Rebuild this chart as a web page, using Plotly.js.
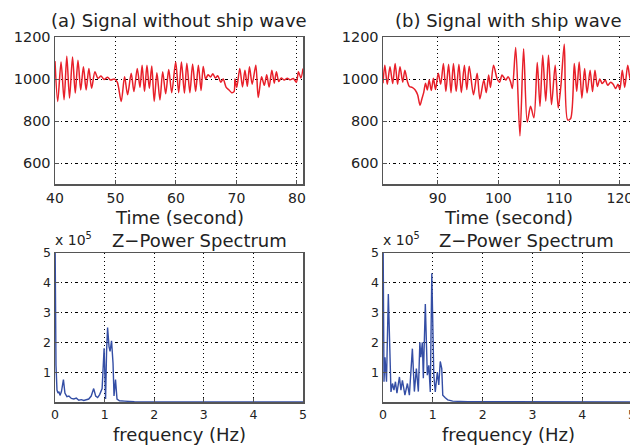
<!DOCTYPE html>
<html><head><meta charset="utf-8">
<script src="https://cdn.plot.ly/plotly-3.0.1.min.js"></script>
<style>html,body{margin:0;padding:0;width:630px;height:446px;overflow:hidden;background:#fff}</style>
</head><body><div id="chart" style="width:650px;height:446px"></div>
<script>
// Signal without ship wave (time s, value)
const timeA = [40.0,40.45,41.0,41.5,41.95,42.4,42.9,43.35,43.8,44.25,44.7,45.15,45.6,46.05,46.6,47.1,47.6,48.1,48.7,49.2,49.8,50.3,50.95,51.5,52.0,52.6,53.05,53.6,54.05,54.4,54.8,55.2,55.6,56.0,56.4,56.85,57.35,57.8,58.3,58.8,59.3,59.95,60.45,60.9,61.4,61.8,62.3,62.75,63.25,63.7,64.15,64.5,64.9,65.3,65.7,66.1,66.5,66.9,67.4,67.8,68.3,68.7,69.2,69.6,69.75,70.05,70.55,71.0,71.4,71.8,72.15,72.6,73.2,73.6,74.15,74.6,75.0,75.4,75.85,76.25,76.6,77.0,77.4,77.9,78.4,78.9,79.4,79.9,80.25,80.65,81.0];
const sigA  = [1085,893,1081,901,1108,909,1105,933,1089,948,1058,948,1050,956,1034,1003,1014,998,1008,995,1000,985,893,1011,925,1027,940,1050,960,1066,940,1066,955,1062,893,1030,900,1035,930,1045,935,1081,935,1081,933,1075,935,1072,940,1066,945,1060,1000,1020,1010,1025,1005,1015,985,1000,960,950,935,940,1000,960,1050,962,1042,965,1058,975,1066,912,1011,970,1020,962,1042,980,1034,988,1005,995,1003,996,1002,985,1034,1005,1050];
// Signal with ship wave
const timeB = [81.0,81.3,81.7,82.15,82.6,83.0,83.4,83.8,84.25,84.6,85.0,85.35,85.8,86.3,86.7,87.1,87.4,87.7,88.0,88.3,88.6,88.95,89.3,89.65,90.1,90.5,90.95,91.35,91.8,92.2,92.6,93.05,93.5,93.9,94.4,94.8,95.2,95.9,96.5,96.95,97.6,98.0,98.4,98.7,99.2,99.8,100.2,100.6,101.2,101.6,102.0,102.3,102.85,103.55,104.15,104.75,105.3,105.85,106.4,106.85,107.3,107.8,108.25,108.75,109.35,109.85,110.3,110.85,111.4,111.9,112.5,112.9,113.3,113.75,114.2,114.6,115.1,115.5,115.9,116.3,116.7,117.1,117.6,118.0,118.5,118.9,119.3,119.7,120.0,120.4,120.8,121.3,121.7,122.0];
const sigB  = [980,1066,975,1058,978,1074,975,1058,985,1042,990,964,960,948,925,875,905,935,980,948,995,945,1003,950,1027,975,1074,940,1070,935,1074,940,1070,935,1066,950,1061,925,1027,905,995,935,1019,960,1066,1000,985,1019,995,1011,987,955,1150,729,1144,795,870,815,1078,870,1113,895,1113,878,1066,862,970,1166,805,812,1074,940,1081,909,1050,933,1042,940,1042,964,1000,978,995,970,985,975,955,975,950,1042,960,1066,1000,1020];
// Z-Power spectra (frequency Hz, power in units of 1e5)
const freqA = [0.0,0.01,0.02,0.04,0.06,0.08,0.10,0.13,0.17,0.20,0.24,0.28,0.33,0.38,0.43,0.48,0.53,0.58,0.63,0.68,0.73,0.78,0.82,0.86,0.90,0.95,0.99,1.02,1.04,1.06,1.09,1.11,1.14,1.17,1.19,1.22,1.25,1.3,1.4,1.5,1.6,2.0,5.0];
const powA  = [5.8,2.5,1.23,0.4,0.3,0.35,0.22,0.35,0.75,0.3,0.18,0.2,0.12,0.1,0.13,0.06,0.08,0.05,0.07,0.1,0.2,0.45,0.2,0.15,0.25,0.45,1.8,0.1,1.7,2.5,1.85,1.7,2.05,1.3,0.2,0.75,0.1,0.04,0.03,0.02,0.01,0.005,0.003];
const freqB = [0.0,0.01,0.02,0.04,0.07,0.107,0.14,0.16,0.19,0.22,0.25,0.28,0.33,0.36,0.39,0.44,0.49,0.53,0.59,0.63,0.67,0.71,0.74,0.76,0.79,0.81,0.85,0.89,0.92,0.95,0.98,1.02,1.05,1.09,1.12,1.15,1.18,1.2,1.25,1.3,1.4,1.5,1.7,5.0];
const powB  = [6,2.5,0.68,1.5,0.68,3.62,1.23,0.34,0.62,0.4,0.68,0.3,0.84,0.4,0.73,0.23,0.62,0.23,1.79,0.35,1.12,0.35,2.0,1.5,2.0,0.8,3.29,0.9,1.23,0.34,4.32,0.9,0.34,1.0,0.57,1.36,1.12,0.23,0.14,0.07,0.03,0.02,0.01,0.003];

const titles = ['(a) Signal without ship wave','(b) Signal with ship wave'];
const timeLabel = 'Time (second)';
const specTitle = 'Z\u2212Power Spectrum';
const freqLabel = 'frequency (Hz)';
const expLabel = 'x 10<sup>5</sup>';

const RED = 'rgb(232,32,42)', BLUE = 'rgb(52,78,165)';
const FONT = 'DejaVu Sans', TXT = '#222';
const data = [
  {x: timeA, y: sigA, xaxis:'x', yaxis:'y', mode:'lines', line:{color:RED, width:1.5, shape:'spline', smoothing:0.8}},
  {x: timeB, y: sigB, xaxis:'x2', yaxis:'y2', mode:'lines', line:{color:RED, width:1.5, shape:'spline', smoothing:0.8}},
  {x: freqA, y: powA, xaxis:'x3', yaxis:'y3', mode:'lines', line:{color:BLUE, width:1.4}},
  {x: freqB, y: powB, xaxis:'x4', yaxis:'y4', mode:'lines', line:{color:BLUE, width:1.4}}
];
const W = 650, H = 446, L = 55, R = 18, T = 37, B = 44;
const PW = W - L - R, PH = H - T - B;
const px = v => (v - L) / PW, py = v => (H - B - v) / PH;
const dA = [0, px(303)], dB = [px(383), 1];
const dTop = [py(184), 1], dBot = [0, py(253)];
function ax(extra, fs) {
  return Object.assign({showline:true, linecolor:'#555', linewidth:1.5, mirror:true,
    showgrid:true, gridcolor:'#000', gridwidth:1, griddash:'1px,3px', zeroline:false,
    ticks:'inside', ticklen:4, tickcolor:'#555',
    tickfont:{family:FONT, size:fs, color:TXT}}, extra);
}
const layout = {
  width: W, height: H, margin:{l:L, r:R, t:T, b:B}, showlegend:false,
  paper_bgcolor:'#fff', plot_bgcolor:'#fff',
  xaxis:  ax({domain:dA, anchor:'y', range:[40,81], tickvals:[40,50,60,70,80], ticklabelstandoff:1}, 14),
  yaxis:  ax({domain:dTop, anchor:'x', range:[500,1200], tickvals:[600,800,1000,1200], griddash:'3px,3px,1px,3px'}, 14.5),
  xaxis2: ax({domain:dB, anchor:'y2', range:[81,122], tickvals:[90,100,110,120], ticklabelstandoff:1}, 14),
  yaxis2: ax({domain:dTop, anchor:'x2', range:[500,1200], tickvals:[600,800,1000,1200], griddash:'3px,3px,1px,3px'}, 14.5),
  xaxis3: ax({domain:dA, anchor:'y3', range:[0,5], tickvals:[0,1,2,3,4,5]}, 12.5),
  yaxis3: ax({domain:dBot, anchor:'x3', range:[0,5], tickvals:[1,2,3,4,5], griddash:'3px,3px,1px,3px'}, 12.5),
  xaxis4: ax({domain:dB, anchor:'y4', range:[0,5], tickvals:[0,1,2,3,4,5]}, 12.5),
  yaxis4: ax({domain:dBot, anchor:'x4', range:[0,5], tickvals:[1,2,3,4,5], griddash:'3px,3px,1px,3px'}, 12.5),
  annotations: []
};
const cA = px(179), cB = px(508);
function ann(text, x, y, size, xanchor) {
  layout.annotations.push({text, x, y, xref:'paper', yref:'paper', showarrow:false,
    xanchor: xanchor || 'center', yanchor:'middle', font:{family:FONT, size, color:TXT}});
}
ann(titles[0], cA, py(21), 18); ann(titles[1], cB, py(21), 18);
ann(timeLabel, cA, py(217), 18); ann(timeLabel, cB, py(217), 18);
ann(specTitle, px(199), py(240), 18); ann(specTitle, px(526), py(240), 18);
ann(freqLabel, cA, py(434), 18); ann(freqLabel, cB, py(434), 18);
ann(expLabel, px(53), py(239), 14, 'left'); ann(expLabel, px(381), py(239), 14, 'left');
Plotly.newPlot('chart', data, layout, {staticPlot:true, displayModeBar:false});
</script></body></html>
